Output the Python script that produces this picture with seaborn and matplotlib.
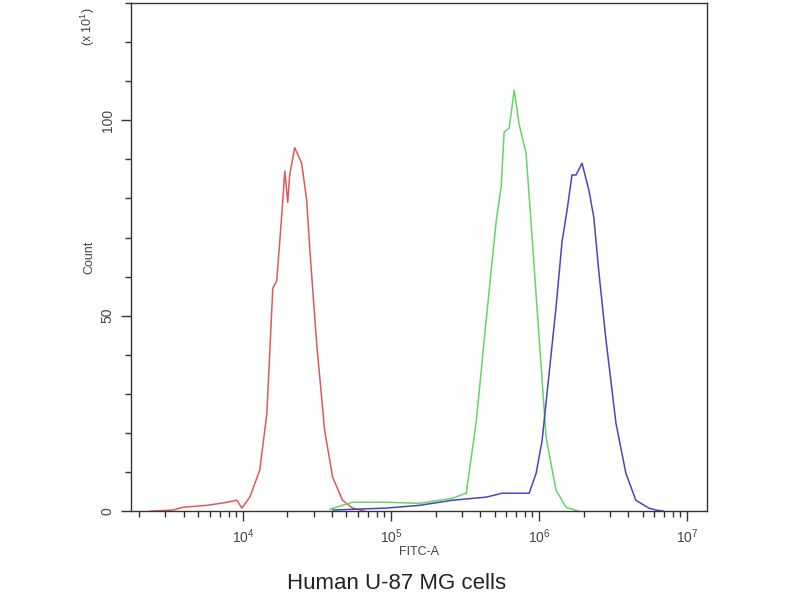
import numpy as np
import pandas as pd
import seaborn as sns
import matplotlib.pyplot as plt
from matplotlib.ticker import LogLocator, MultipleLocator, NullFormatter

# FITC-A intensity as log10 positions, counts in units of 10 (x 10^1)
red_log = [3.374, 3.529, 3.596, 3.758, 3.879, 3.960, 3.993, 4.047, 4.114,
           4.162, 4.202, 4.229, 4.263, 4.283, 4.303, 4.316, 4.350, 4.397,
           4.431, 4.451, 4.498, 4.552, 4.606, 4.673, 4.741, 4.822]
red_count = [0, 0.3, 1.0, 1.5, 2.2, 2.8, 0.8, 3.6, 10.5,
             25, 57, 59, 76, 87, 79, 86, 93, 89,
             79.5, 67.5, 43, 20.7, 8.7, 2.8, 0.8, 0]

green_log = [4.586, 4.741, 4.970, 5.192, 5.414, 5.508, 5.576, 5.643, 5.710,
             5.744, 5.764, 5.798, 5.832, 5.865, 5.912, 5.953, 6.000, 6.047,
             6.114, 6.182, 6.269]
green_count = [0.5, 2.3, 2.3, 2.0, 3.3, 4.6, 23, 49, 74,
               83, 97, 98, 107.7, 99, 91.6, 70, 44.5, 19,
               5.4, 1.0, 0]

blue_log = [4.606, 4.970, 5.192, 5.414, 5.643, 5.751, 5.912, 5.933, 5.980,
            6.020, 6.067, 6.114, 6.155, 6.189, 6.222, 6.249, 6.290, 6.337,
            6.370, 6.404, 6.451, 6.519, 6.586, 6.653, 6.741, 6.788, 6.842]
blue_count = [0.3, 0.8, 1.5, 2.8, 3.6, 4.6, 4.6, 4.6, 9.7,
              18, 35, 52, 69, 77, 86, 86, 89, 82,
              75, 61, 44, 22.5, 9.7, 2.8, 0.8, 0.3, 0]

series = [("red", red_log, red_count, "#e0585a"),
          ("green", green_log, green_count, "#66d466"),
          ("blue", blue_log, blue_count, "#4646c0")]

sns.set_style("ticks")
plt.rcParams['font.family'] = ['Liberation Sans', 'DejaVu Sans']
plt.rcParams['mathtext.fontset'] = 'custom'
plt.rcParams['mathtext.rm'] = 'Liberation Sans'

fig = plt.figure(figsize=(8, 6), dpi=100)
ax = fig.add_axes([0.164, 0.148, 0.72, 0.847])

for name, xs, ys, col in series:
    df = pd.DataFrame({"FITC": 10 ** np.array(xs), "Count": ys})
    sns.lineplot(data=df, x="FITC", y="Count", ax=ax, color=col,
                 linewidth=1.1, estimator=None)

ax.set_xscale("log")
ax.set_xlim(10 ** 3.246, 10 ** 7.135)
ax.set_ylim(0, 130)

ax.xaxis.set_major_locator(LogLocator(base=10, numticks=10))
ax.xaxis.set_minor_locator(LogLocator(base=10, subs=np.arange(2, 10), numticks=20))
ax.xaxis.set_minor_formatter(NullFormatter())
ax.yaxis.set_major_locator(MultipleLocator(50))
ax.yaxis.set_minor_locator(MultipleLocator(10))

for s in ax.spines.values():
    s.set_color("#333333")
    s.set_linewidth(1.0)

ax.tick_params(which="major", length=7, width=1, color="#333333",
               labelsize=10, labelcolor="#444444", pad=5)
ax.tick_params(which="minor", length=4, width=1, color="#333333")
plt.setp(ax.get_yticklabels(), rotation=90, va="center")

ax.set_xlabel("FITC-A", fontsize=9, color="#444444", labelpad=0)
ax.set_ylabel("Count", fontsize=9, color="#444444", labelpad=4)

fig.text(0.11, 0.955, "(x 10$^{1}$)", rotation=90, fontsize=9,
         color="#444444", ha="center", va="center")
fig.text(0.496, 0.028, "Human U-87 MG cells", fontsize=16, color="#222222",
         ha="center", va="center")

plt.savefig("out.png", dpi=100)
